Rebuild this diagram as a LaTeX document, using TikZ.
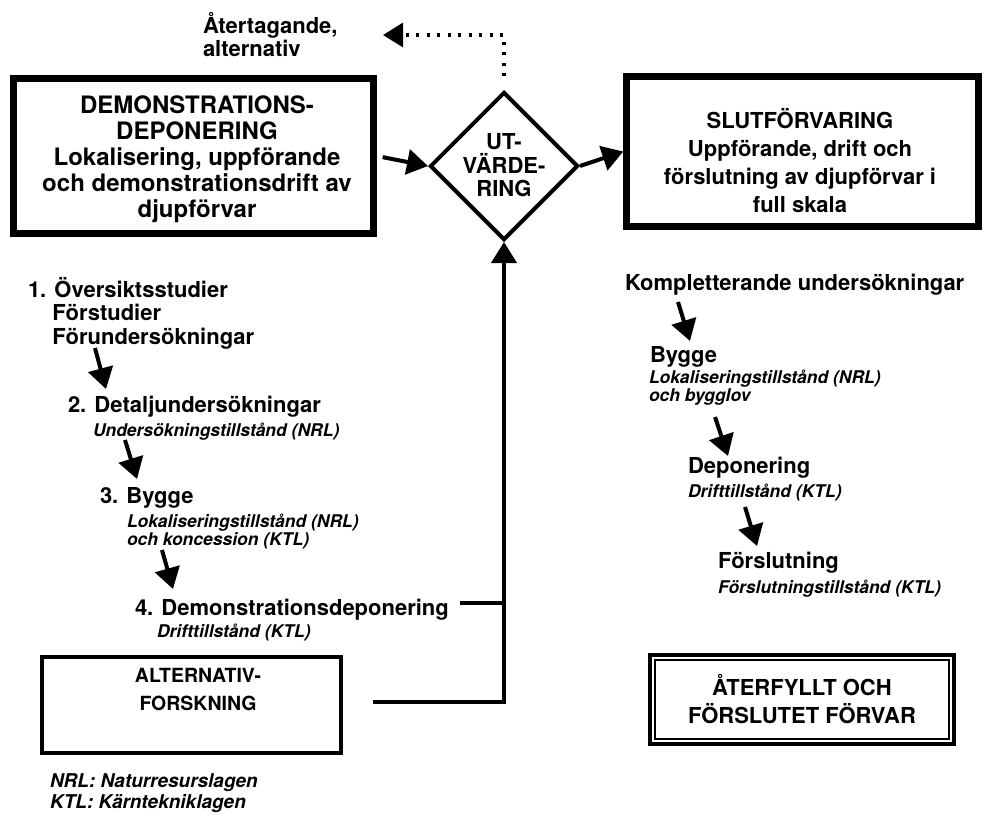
\documentclass[tikz,border=0pt]{standalone}
\usepackage{fontspec}
\setmainfont{TeX Gyre Heros}
\usetikzlibrary{arrows.meta,shapes.geometric,calc}

\newcommand{\fsz}[2]{\fontsize{#1}{#2}\selectfont}

\begin{document}
\begin{tikzpicture}[x=1pt,y=-1pt,
  heavybox/.style={draw, rectangle, line width=6.5pt},
  lightbox/.style={draw, rectangle, line width=4.5pt},
  txt/.style={inner sep=0pt, outer sep=0pt},
  boxtext/.style={txt, align=center, font=\bfseries\fsz{22}{28}},
  % multi-line texts are anchored at the baseline of their last line
  stepmain/.style={txt, anchor=base west, align=left, font=\bfseries\fsz{22}{23.5}},
  stepnote/.style={txt, anchor=base west, align=left, font=\bfseries\itshape\fsz{17.5}{18.5}},
  flow/.style={line width=4pt, -{Triangle[length=21pt,width=25pt]}},
  plain/.style={line width=4pt},
  retur/.style={line width=3.2pt, dash pattern=on 3pt off 7.5pt,
    -{Triangle[length=20pt,width=24pt]}}
]
% page and background
\fill[white] (0,0) rectangle (984,823);
\path[use as bounding box] (0,0) rectangle (984,823);

% ---- main boxes ----
\node[heavybox, minimum width=360pt, minimum height=155pt] (demo) at (193.5,156) {};
\node[boxtext, font=\bfseries\fsz{24}{26}] (demotxt) at (197,159)
  {DEMONSTRATIONS-\\DEPONERING\\Lokalisering, uppförande\\och demonstrationsdrift av\\djupförvar};

\node[draw, diamond, aspect=1, line width=4pt, minimum width=148pt,
      minimum height=148pt, inner sep=0pt] (eval) at (504,166) {};
\node[boxtext, font=\bfseries\fsz{22}{23.5}] (evaltxt) at (504,165.6) {UT-\\VÄRDE-\\RING};

\node[heavybox, minimum width=352pt, minimum height=150pt] (slut) at (802.5,151.5) {};
\node[boxtext] (sluttxt) at (800,160.3)
  {SLUTFÖRVARING\\Uppförande, drift och\\förslutning av djupförvar i\\full skala};

\node[lightbox, minimum width=299pt, minimum height=96pt] (alt) at (191.5,705) {};
\node[boxtext, font=\bfseries\fsz{19.5}{28}] (alttxt) at (198,689) {ALTERNATIV-\\FORSKNING};

% closed repository: double frame
\node[draw, rectangle, line width=4pt, minimum width=303.6pt, minimum height=88.5pt] (ater) at (802,699.5) {};
\draw[line width=2pt] ([shift={(6.4,6.4)}]ater.north west) rectangle ([shift={(-6.4,-6.4)}]ater.south east);
\node[boxtext] (atertxt) at (802,698.8) {ÅTERFYLLT OCH\\FÖRSLUTET FÖRVAR};

% ---- return branch ----
\node[txt, anchor=base west, align=left, font=\bfseries\fsz{22}{19}] (retlbl) at (203,56)
  {Återtagande,\\alternativ};
\coordinate (ret) at (383,35);
\draw[retur, shorten <=14pt] (eval.north) |- (ret);

% ---- steps towards the demonstration repository ----
\node[stepmain] (s1) at (28,344)
  {1. Översiktsstudier\\\hphantom{1.\ }Förstudier\\\hphantom{1.\ }Förundersökningar};
\node[stepmain] (s2) at (68,412) {2. Detaljundersökningar};
\node[stepnote] (s2n) at (93,436) {Undersökningstillstånd (NRL)};
\node[stepmain] (s3) at (100,503) {3. Bygge};
\node[stepnote] (s3n) at (127,545.5) {Lokaliseringstillstånd (NRL)\\och koncession (KTL)};
\node[stepmain] (s4) at (135,615) {4. Demonstrationsdeponering};
\node[stepnote] (s4n) at (157,637) {Drifttillstånd (KTL)};

\coordinate (d1a) at (95,348);  \coordinate (d1b) at (106,389);
\coordinate (d2a) at (125,440); \coordinate (d2b) at (137,479);
\coordinate (d3a) at (162,550); \coordinate (d3b) at (173,589);
\draw[flow] (d1a) -- (d1b);
\draw[flow] (d2a) -- (d2b);
\draw[flow] (d3a) -- (d3b);

% ---- steps towards the final repository ----
\node[stepmain] (k0) at (625,290) {Kompletterande undersökningar};
\node[stepmain] (k1) at (650,362) {Bygge};
\node[stepnote] (k1n) at (649,401.5) {Lokaliseringstillstånd (NRL)\\och bygglov};
\node[stepmain] (k2) at (688,473) {Deponering};
\node[stepnote] (k2n) at (688,497) {Drifttillstånd (KTL)};
\node[stepmain] (k3) at (718,568) {Förslutning};
\node[stepnote] (k3n) at (718,593) {Förslutningstillstånd (KTL)};

\coordinate (e1a) at (678,302); \coordinate (e1b) at (690,341);
\coordinate (e2a) at (715,417); \coordinate (e2b) at (728,456);
\coordinate (e3a) at (745,507); \coordinate (e3b) at (757,546);
\draw[flow] (e1a) -- (e1b);
\draw[flow] (e2a) -- (e2b);
\draw[flow] (e3a) -- (e3b);

% ---- connectors between the main blocks ----
\draw[flow, shorten <=6pt] (demo.east) -- (eval.west);
\draw[flow] (eval.east) -- (slut.west);

\coordinate (join) at (504,702);
\coordinate (tap) at (504,603);
\draw[flow, shorten <=30pt] (alt.east |- join) -- (join) -- (eval.south);
\draw[plain, shorten <=11pt] (s4.east |- tap) -- (tap);

% ---- legend ----
\node[txt, anchor=base west, font=\bfseries\itshape\fsz{19}{21}] (nrl) at (50,787) {NRL: Naturresurslagen};
\node[txt, anchor=base west, font=\bfseries\itshape\fsz{19}{21}] (ktl) at (50,808) {KTL: Kärntekniklagen};
\end{tikzpicture}
\end{document}
